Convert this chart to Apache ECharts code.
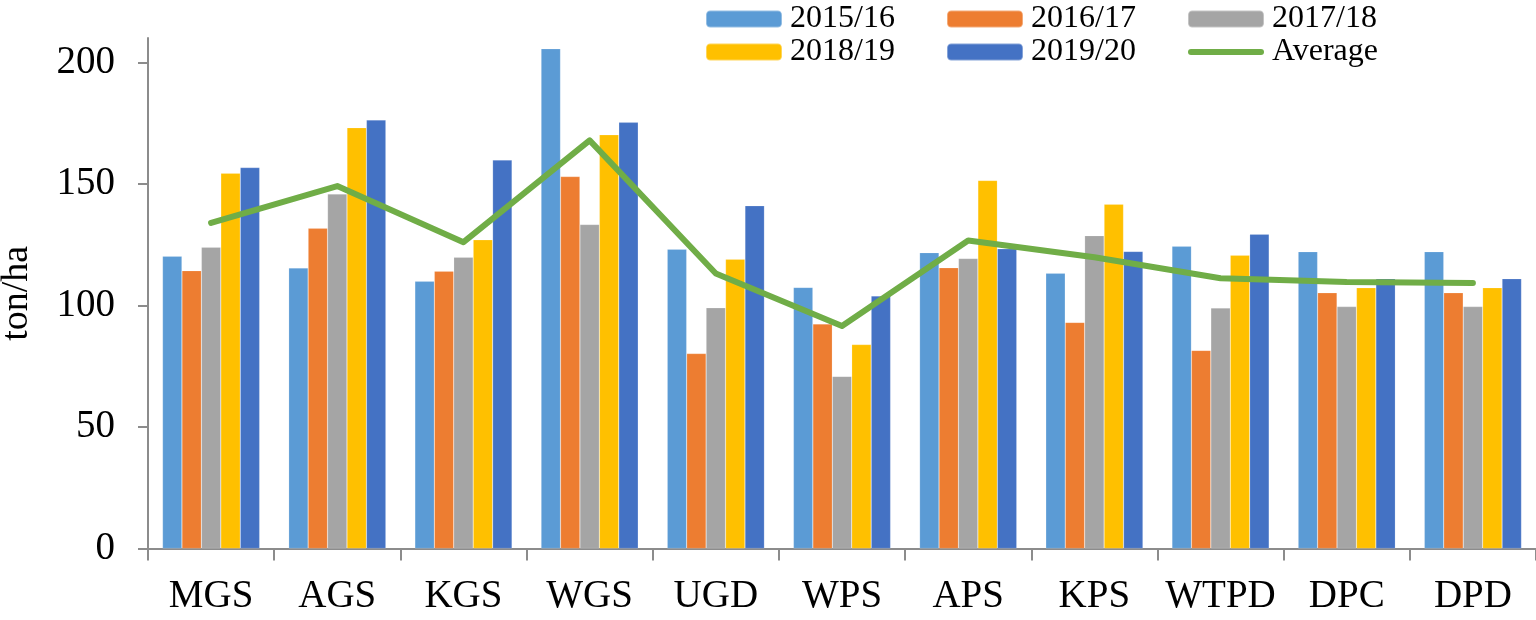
<!DOCTYPE html>
<html>
<head>
<meta charset="utf-8">
<script src="https://cdn.jsdelivr.net/npm/echarts@6/dist/echarts.min.js"></script>
<style>
html,body{margin:0;padding:0;background:#fff;}
#chart{width:1536px;height:620px;}
</style>
</head>
<body>
<div id="chart"></div>
<script>
var categories = ['MGS','AGS','KGS','WGS','UGD','WPS','APS','KPS','WTPD','DPC','DPD'];
var yTicks = [0, 50, 100, 150, 200];
var s2015 = [120.2, 115.4, 109.9, 205.6, 123.1, 107.4, 121.7, 113.2, 124.3, 122.1, 122.1];
var s2016 = [114.3, 131.7, 114.1, 153.0, 80.2, 92.4, 115.5, 93.0, 81.5, 105.2, 105.2];
var s2017 = [123.9, 145.8, 119.8, 133.3, 99.0, 70.8, 119.3, 128.7, 98.9, 99.5, 99.5];
var s2018 = [154.4, 173.1, 127.0, 170.2, 119.0, 83.9, 151.4, 141.6, 120.6, 107.3, 107.3];
var s2019 = [156.7, 176.3, 159.8, 175.3, 141.0, 103.9, 123.3, 122.2, 129.3, 111.0, 111.0];
var average = [133.9, 149.1, 126.0, 167.9, 113.1, 91.5, 126.7, 119.8, 111.2, 109.6, 109.2];

var FONT = 'Liberation Serif';
var colors = ['#5B9BD5','#ED7D31','#A5A5A5','#FFC000','#4472C4','#70AD47'];

function bar(name, data, color){
  return {
    name: name, type: 'bar', data: data,
    barGap: '0%', barCategoryGap: '23%',
    itemStyle: {color: color, borderColor: 'rgba(255,255,255,0.35)', borderWidth: 0.5},
    emphasis: {disabled: true}
  };
}

var lineIcon = 'path://M0,0M76,17M3,5.5L73,5.5A3,3 0 0 1 73,11.5L3,11.5A3,3 0 0 1 3,5.5Z';

function legendCol(left, names){
  return {
    orient: 'vertical', left: left, top: 3, padding: 0,
    itemWidth: 76, itemHeight: 17, itemGap: 1,
    textStyle: {fontFamily: FONT, fontSize: 32, color: '#000', padding: [0,0,0,3]},
    data: names, selectedMode: false
  };
}

var chart = echarts.init(document.getElementById('chart'), null, {renderer: 'canvas'});
chart.setOption({
  animation: false,
  color: colors,
  grid: {left: 148, right: 0, top: 38, bottom: 71.5, containLabel: false, outerBoundsMode: 'none'},
  legend: [
    legendCol(705, ['2015/16','2018/19']),
    legendCol(946, ['2016/17','2019/20']),
    legendCol(1187, ['2017/18', {name:'Average', icon: lineIcon, itemStyle: {color: colors[5]}}])
  ],
  xAxis: {
    type: 'category', data: categories,
    axisLine: {lineStyle: {color: '#8c8c8c', width: 2}},
    axisTick: {show: true, length: 12, interval: 0, lineStyle: {color: '#8c8c8c', width: 2}},
    axisLabel: {fontFamily: FONT, fontSize: 39, color: '#000', margin: 29, interval: 0}
  },
  yAxis: {
    type: 'value', min: 0, max: 210, interval: 50,
    name: 'ton/ha', nameLocation: 'middle', nameRotate: 90, nameGap: 112,
    nameTextStyle: {fontFamily: FONT, fontSize: 38, color: '#000'},
    axisLine: {show: true, lineStyle: {color: '#8c8c8c', width: 2}},
    axisTick: {show: true, length: 10, lineStyle: {color: '#8c8c8c', width: 2}, customValues: yTicks},
    axisLabel: {fontFamily: FONT, fontSize: 39, color: '#000', margin: 33, customValues: yTicks},
    splitLine: {show: false}
  },
  series: [
    bar('2015/16', s2015, colors[0]),
    bar('2016/17', s2016, colors[1]),
    bar('2017/18', s2017, colors[2]),
    bar('2018/19', s2018, colors[3]),
    bar('2019/20', s2019, colors[4]),
    {
      name: 'Average', type: 'line', data: average, symbol: 'none', z: 5,
      lineStyle: {color: colors[5], width: 6, cap: 'round', join: 'round'},
      itemStyle: {color: colors[5]},
      emphasis: {disabled: true}
    }
  ]
});
</script>
</body>
</html>
